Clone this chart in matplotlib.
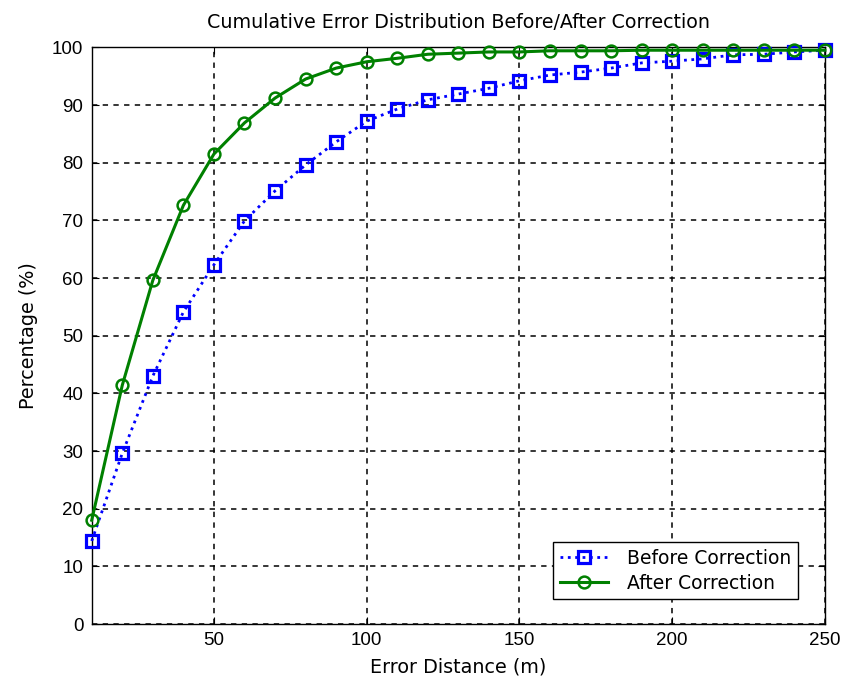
import matplotlib
matplotlib.use("Agg")
import matplotlib.pyplot as plt

plt.rcParams["font.family"] = ["Liberation Sans", "DejaVu Sans"]
TEXT_FONT = ["DejaVu Sans"]

# error distance (m)
distance = [10, 20, 30, 40, 50, 60, 70, 80, 90, 100, 110, 120, 130,
            140, 150, 160, 170, 180, 190, 200, 210, 220, 230, 240, 250]

# cumulative percentage before correction
before = [14.4, 29.6, 43.0, 54.1, 62.3, 69.9, 75.1, 79.6, 83.6, 87.2,
          89.3, 90.9, 91.9, 92.9, 94.2, 95.2, 95.7, 96.4, 97.3, 97.6,
          98.0, 98.7, 98.8, 99.2, 99.5]

# cumulative percentage after correction
after = [18.0, 41.4, 59.6, 72.6, 81.5, 86.9, 91.2, 94.5, 96.4, 97.5,
         98.1, 98.8, 99.0, 99.2, 99.2, 99.4, 99.4, 99.4, 99.5, 99.5,
         99.5, 99.5, 99.5, 99.5, 99.5]

xticks = [50, 100, 150, 200, 250]
yticks = list(range(0, 101, 10))

fig = plt.figure(figsize=(8.43, 6.84), dpi=100)
fig.patch.set_facecolor("white")
ax = fig.add_axes([0.1088, 0.0877, 0.8698, 0.8431])

ax.plot(distance, before, color="#0000ff", linestyle=":", linewidth=2,
        marker="s", markersize=8, markerfacecolor="none",
        markeredgewidth=2.3, label="Before Correction", clip_on=False, zorder=3)
ax.plot(distance, after, color="#008000", linestyle="-", linewidth=2.2,
        marker="o", markersize=8.5, markerfacecolor="none",
        markeredgewidth=1.8, label="After Correction", clip_on=False, zorder=4)

ax.set_xlim(10, 250)
ax.set_ylim(0, 100)
ax.set_xticks(xticks)
ax.set_yticks(yticks)
ax.grid(True, color="black", linestyle=(0, (3.5, 3.5)), linewidth=1.1)
ax.tick_params(direction="in", length=5, labelsize=13.5, colors="black",
               top=True, right=True, pad=6)
for s in ax.spines.values():
    s.set_linewidth(1)
    s.set_color("black")

ax.set_title("Cumulative Error Distribution Before/After Correction",
             fontsize=13.7, pad=14, family=TEXT_FONT)
ax.set_xlabel("Error Distance (m)", fontsize=13.8, labelpad=6, family=TEXT_FONT)
ax.set_ylabel("Percentage (%)", fontsize=13.8, labelpad=10, family=TEXT_FONT)

leg = ax.legend(loc="lower right", prop={"family": TEXT_FONT, "size": 13.5},
                fancybox=False, edgecolor="black", framealpha=1,
                borderaxespad=0, handlelength=2.6, borderpad=0.35,
                labelspacing=0.3, handletextpad=1.0,
                bbox_to_anchor=(0.963, 0.043))
leg.get_frame().set_linewidth(1)

fig.savefig("out.png", dpi=100)
